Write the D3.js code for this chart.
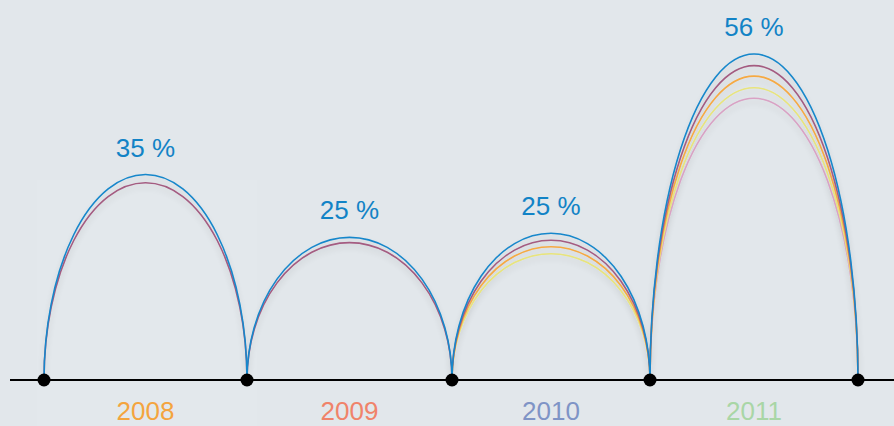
<!DOCTYPE html>
<html><head><meta charset="utf-8">
<script src="https://cdn.jsdelivr.net/npm/d3@7"></script>
<style>
html,body{margin:0;padding:0;background:#e2e7eb;overflow:hidden}
svg{display:block}
text{font-family:"Liberation Sans",Arial,Helvetica,sans-serif}
</style></head>
<body>
<svg id="chart" width="894" height="426"></svg>
<script>
const years = ["2008","2009","2010","2011"];
const labels = ["35 %","25 %","25 %","56 %"];
const blueSeries   = [35.3, 24.5, 25.2, 56];
const purpleSeries = [33.9, 23.6, 24.0, 54.0];
const orangeSeries = [null, null, 22.9, 52.2];
const yellowSeries = [null, null, 21.7, 50.2];
const pinkSeries   = [null, null, null, 48.4];
const yearColors = ["#f4a43e","#f0836a","#7f94c6","#a9d6a6"];

const series = [
  {values: pinkSeries,   color: "#d9a2c4"},
  {values: yellowSeries, color: "#e8e47c"},
  {values: orangeSeries, color: "#f6a942"},
  {values: purpleSeries, color: "#a45b80"},
  {values: blueSeries,   color: "#1787cb"}
];

const W = 894, H = 426;
const svg = d3.select("#chart");
const baseY = 380;

const x = d3.scaleLinear().domain([0,1,2,3,4]).range([44,247,452,650,858]);
const y = d3.scaleLinear().domain([0,56]).range([baseY, 54]);

const defs = svg.append("defs");
const f = defs.append("filter").attr("id","sh").attr("x","-20%").attr("y","-20%").attr("width","140%").attr("height","140%");
f.append("feGaussianBlur").attr("in","SourceAlpha").attr("stdDeviation",3).attr("result","b");
f.append("feOffset").attr("in","b").attr("dx",0).attr("dy",4).attr("result","o");
f.append("feComponentTransfer").attr("in","o").attr("result","o2")
  .append("feFuncA").attr("type","linear").attr("slope",0.12);
const m = f.append("feMerge");
m.append("feMergeNode").attr("in","o2");
m.append("feMergeNode").attr("in","SourceGraphic");

// subtle panel behind first year
svg.append("rect").attr("x", x(0)-7).attr("y", 180).attr("width", x(1)-x(0)+17).attr("height", H-180)
  .attr("fill","#ffffff").attr("opacity",0.06);

function arcPath(i, v){
  const x0 = x(i), x1 = x(i+1);
  const rx = (x1-x0)/2, ry = baseY - y(v);
  return `M${x0},${baseY} A${rx},${ry} 0 0 1 ${x1},${baseY}`;
}

const g = svg.append("g").attr("filter","url(#sh)");
series.forEach(s => {
  g.selectAll(null).data(s.values.map((v,i)=>({v,i})).filter(d=>d.v!=null))
    .enter().append("path")
    .attr("d", d => arcPath(d.i, d.v))
    .attr("fill","none").attr("stroke", s.color).attr("stroke-width", 1.6);
});

// baseline
svg.append("line").attr("x1",10).attr("x2",W).attr("y1",baseY).attr("y2",baseY)
  .attr("stroke","#000").attr("stroke-width",2);

svg.selectAll("circle.pt").data(d3.range(years.length+1)).enter().append("circle")
  .attr("cx", d=>x(d)).attr("cy", baseY).attr("r", 6.5).attr("fill","#000");

// value labels
svg.selectAll("text.val").data(labels).enter().append("text")
  .attr("x",(d,i)=>(x(i)+x(i+1))/2)
  .attr("y",(d,i)=>y(blueSeries[i]) - 18)
  .attr("text-anchor","middle").attr("font-size",26).attr("fill","#1283c6")
  .text(d=>d);

// year labels
svg.selectAll("text.yr").data(years).enter().append("text")
  .attr("x",(d,i)=>(x(i)+x(i+1))/2)
  .attr("y", 420)
  .attr("text-anchor","middle").attr("font-size",26).attr("fill",(d,i)=>yearColors[i])
  .text(d=>d);
</script>
</body></html>
